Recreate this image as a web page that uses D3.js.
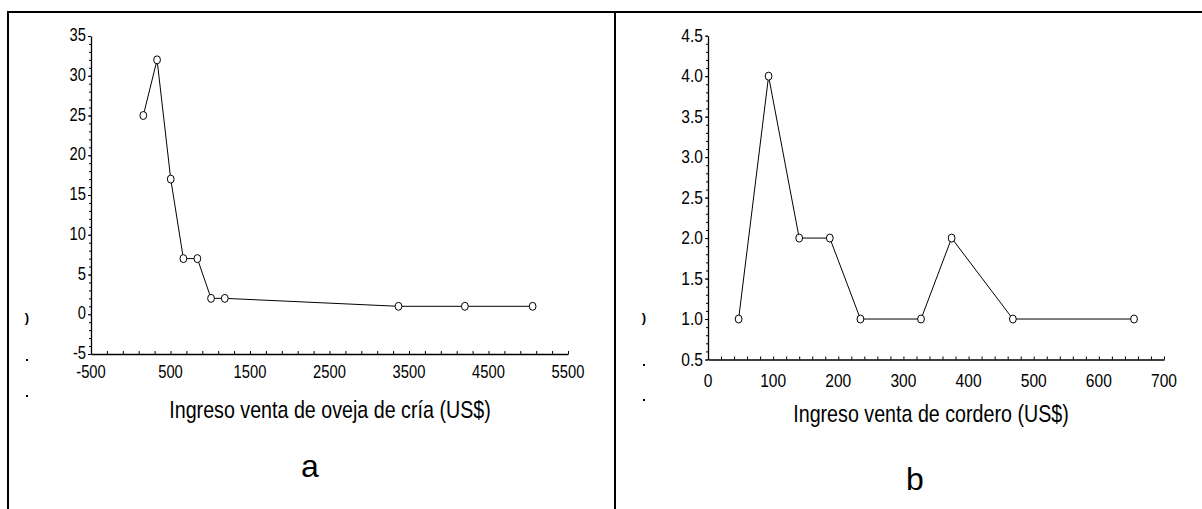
<!DOCTYPE html>
<html>
<head>
<meta charset="utf-8">
<script src="https://cdn.jsdelivr.net/npm/d3@7"></script>
<style>
  html, body { margin: 0; padding: 0; background: #fff; }
  svg { display: block; }
  text { font-family: "Liberation Sans", Arial, sans-serif; fill: #000; }
</style>
</head>
<body>
<svg id="fig" width="1202" height="509"></svg>
<script>
// Panel a: ewe sale income vs frequency
const incomeEwe = [158, 331, 503, 662, 838, 1010, 1183, 3368, 4203, 5055];
const countEwe  = [25, 32, 17, 7, 7, 2, 2, 1, 1, 1];
const xTicksEwe = [-500, 500, 1500, 2500, 3500, 4500, 5500];
const yTicksEwe = [-5, 0, 5, 10, 15, 20, 25, 30, 35];

// Panel b: lamb sale income vs frequency
const incomeLamb = [47, 93, 140, 187, 234, 327, 374, 468, 654];
const countLamb  = [1, 4, 2, 2, 1, 1, 2, 1, 1];
const xTicksLamb = [0, 100, 200, 300, 400, 500, 600, 700];
const yTicksLamb = [0.5, 1.0, 1.5, 2.0, 2.5, 3.0, 3.5, 4.0, 4.5];

const titleEwe = "Ingreso venta de oveja de cría (US$)";
const titleLamb = "Ingreso venta de cordero (US$)";

const NARROW = 0.82; // horizontal squeeze giving a narrow sans look

const svg = d3.select("#fig");

// condensed text: a text node inside a squeezed group
function narrowText(parent, x, y, str, size, anchor) {
  return parent.append("g")
    .attr("transform", `translate(${x},${y}) scale(${NARROW},1)`)
    .append("text")
    .attr("text-anchor", anchor).attr("font-size", size)
    .text(str);
}

// frame lines
const frame = svg.append("g").attr("stroke", "#000").attr("stroke-width", 2);
frame.append("line").attr("x1", 7).attr("x2", 1202).attr("y1", 12).attr("y2", 12);
frame.append("line").attr("x1", 8).attr("x2", 8).attr("y1", 11).attr("y2", 509);
frame.append("line").attr("x1", 615).attr("x2", 615).attr("y1", 11).attr("y2", 509);

function panel(cfg) {
  const g = svg.append("g");
  const x = d3.scaleLinear().domain(cfg.xDomain).range(cfg.xRange);
  const y = d3.scaleLinear().domain(cfg.yDomain).range(cfg.yRange);
  const y0 = cfg.yRange[0], x0 = cfg.xRange[0];

  // x axis: ticks pointing up into the plot
  const xMinor = d3.range(cfg.xDomain[0], cfg.xDomain[1] + 1e-9, cfg.xMinorStep);
  const xa = g.append("g").attr("transform", `translate(0,${y0})`)
    .call(d3.axisBottom(x).tickValues(xMinor).tickSizeInner(-3).tickSizeOuter(0).tickFormat(""));
  xa.select(".domain").attr("stroke", "#000").attr("stroke-width", 1.3);
  xa.selectAll(".tick line").attr("stroke", "#000");
  const xl = g.append("g");
  cfg.xTicks.forEach(d => narrowText(xl, x(d), y0 + cfg.xLabelDy, cfg.xFmt(d), cfg.tickFont, "middle"));

  // y axis: minor ticks to the left, majors a bit longer
  const yMinor = d3.range(cfg.yDomain[0], cfg.yDomain[1] + 1e-9, cfg.yMinorStep);
  const ya = g.append("g").attr("transform", `translate(${x0},0)`)
    .call(d3.axisLeft(y).tickValues(yMinor).tickSizeInner(2).tickSizeOuter(0).tickFormat(""));
  ya.select(".domain").attr("stroke", "#000").attr("stroke-width", 1.3);
  ya.selectAll(".tick line").attr("stroke", "#000");
  const yb = g.append("g").attr("transform", `translate(${x0},0)`)
    .call(d3.axisLeft(y).tickValues(cfg.yTicks).tickSizeInner(3).tickSizeOuter(0).tickFormat(""));
  yb.select(".domain").remove();
  yb.selectAll(".tick line").attr("stroke", "#000");
  const yl = g.append("g");
  cfg.yTicks.forEach(d => narrowText(yl, x0 - 5, y(d) + cfg.yLabelDy, cfg.yFmt(d), cfg.tickFont, "end"));

  // data line and open markers
  const pts = cfg.xs.map((v, i) => [v, cfg.ys[i]]);
  g.append("path").datum(pts)
    .attr("fill", "none").attr("stroke", "#000").attr("stroke-width", 1)
    .attr("d", d3.line().x(d => x(d[0])).y(d => y(d[1])));
  g.append("g").selectAll("ellipse").data(pts).join("ellipse")
    .attr("cx", d => x(d[0])).attr("cy", d => y(d[1]))
    .attr("rx", 3.4).attr("ry", 4)
    .attr("fill", "#fff").attr("stroke", "#000").attr("stroke-width", 1);

  // axis title
  narrowText(g, cfg.titleX, cfg.titleY, cfg.title, cfg.titleFont, "middle");

  // panel letter
  g.append("text")
    .attr("x", cfg.letterX).attr("y", cfg.letterY)
    .attr("text-anchor", "middle").attr("font-size", 32)
    .text(cfg.letter);

  // remnants of a clipped vertical label
  const stub = g.append("g");
  stub.append("text").attr("x", cfg.stubX).attr("y", 322)
    .attr("text-anchor", "middle").attr("font-size", 13).attr("font-weight", "bold").text(")");
  stub.append("rect").attr("x", cfg.stubX - 1).attr("y", cfg.stubDashY).attr("width", 2).attr("height", 2).attr("fill", "#000");
  stub.append("rect").attr("x", cfg.stubX - 1).attr("y", cfg.stubDotY).attr("width", 2).attr("height", 2).attr("fill", "#000");
}

panel({
  xs: incomeEwe, ys: countEwe,
  xDomain: [-500, 5500], xRange: [91, 568], xMinorStep: 200,
  yDomain: [-5, 35], yRange: [354, 36], yMinorStep: 1,
  xTicks: xTicksEwe, yTicks: yTicksEwe,
  xFmt: d => String(d), yFmt: d => String(d),
  tickFont: 18, xLabelDy: 24, yLabelDy: 5,
  title: titleEwe, titleX: 330, titleY: 418, titleFont: 24,
  letter: "a", letterX: 310, letterY: 477,
  stubX: 27, stubDashY: 359, stubDotY: 395
});

panel({
  xs: incomeLamb, ys: countLamb,
  xDomain: [0, 700], xRange: [708, 1164], xMinorStep: 20,
  yDomain: [0.5, 4.5], yRange: [359.5, 35.7], yMinorStep: 0.1,
  xTicks: xTicksLamb, yTicks: yTicksLamb,
  xFmt: d => String(d), yFmt: d => d.toFixed(1),
  tickFont: 19, xLabelDy: 27, yLabelDy: 6,
  title: titleLamb, titleX: 931, titleY: 422, titleFont: 24,
  letter: "b", letterX: 915, letterY: 490,
  stubX: 644, stubDashY: 364, stubDotY: 399
});
</script>
</body>
</html>
